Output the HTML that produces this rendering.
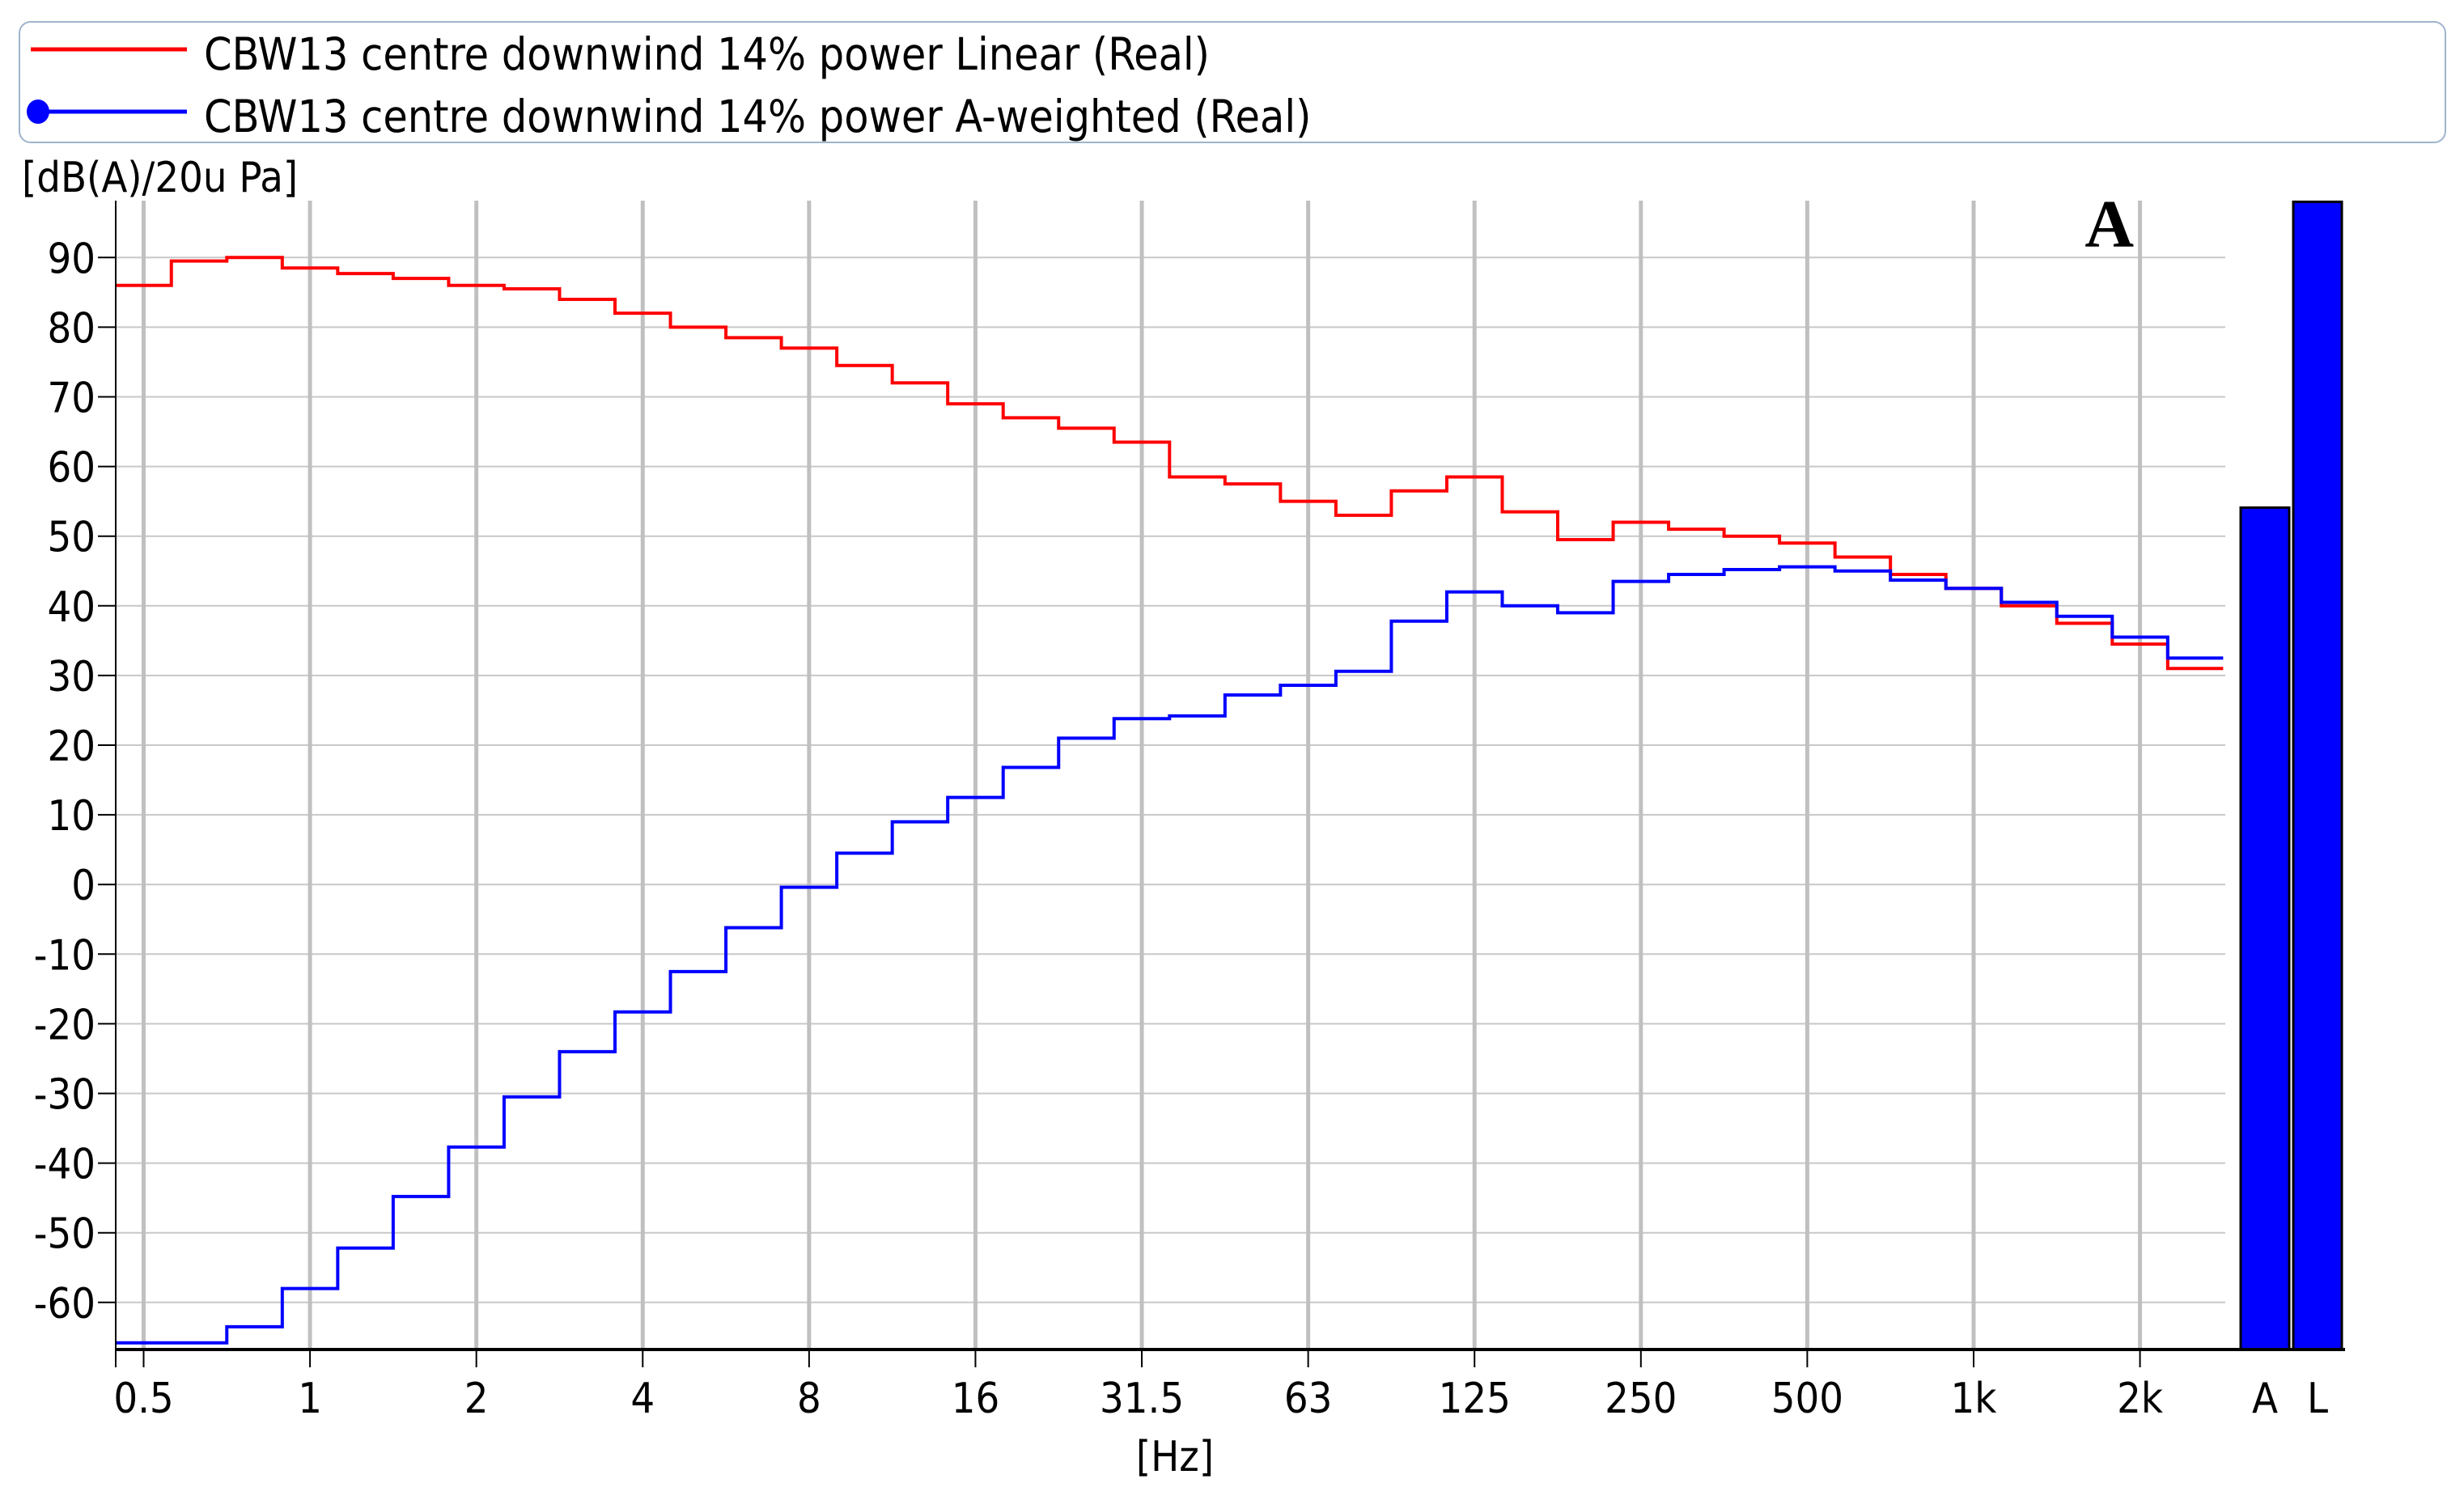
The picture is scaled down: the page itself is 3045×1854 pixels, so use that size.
<!DOCTYPE html>
<html><head><meta charset="utf-8"><style>
html,body{margin:0;padding:0;background:#fff;}
svg{display:block;font-family:"DejaVu Sans Condensed","Liberation Sans",sans-serif;}
</style></head><body>
<svg id="chart" width="3045" height="1854" viewBox="0 0 3045 1854" xmlns="http://www.w3.org/2000/svg">
<g>
<rect x="24" y="27" width="2998" height="149" rx="14" fill="#fff" stroke="#9fb4cc" stroke-width="2"/>
<line x1="38" y1="61" x2="231" y2="61" stroke="#ff0000" stroke-width="5"/>
<text x="252" y="86" font-size="55">CBW13 centre downwind 14% power Linear (Real)</text>
<line x1="47" y1="138" x2="231" y2="138" stroke="#0000ff" stroke-width="5"/>
<ellipse cx="47" cy="138" rx="14" ry="15" fill="#0000ff"/>
<text x="252" y="163" font-size="55">CBW13 centre downwind 14% power A-weighted (Real)</text>
</g>
<text x="27" y="237" font-size="52">[dB(A)/20u Pa]</text>
<text x="2637" y="305" font-size="84" font-weight="bold" text-anchor="end" font-family="Liberation Serif,serif">A</text>
<text x="1452" y="1818" font-size="52" text-anchor="middle">[Hz]</text>
<g id="grid"></g><g id="series"></g><g id="axes"></g>
</svg>
<script>
const bandLabels=["0.5","0.63","0.8","1","1.25","1.6","2","2.5","3.15","4","5","6.3","8","10","12.5","16","20","25","31.5","40","50","63","80","100","125","160","200","250","315","400","500","630","800","1k","1.25k","1.6k","2k","2.5k"];
const linearValues=[86,89.5,90,88.5,87.7,87,86,85.5,84,82,80,78.5,77,74.5,72,69,67,65.5,63.5,58.5,57.5,55,53,56.5,58.5,53.5,49.5,52,51,50,49,47,44.5,42.5,40,37.5,34.5,31];
const aWeightedValues=[-65.8,-65.8,-63.5,-58,-52.2,-44.8,-37.7,-30.5,-24,-18.3,-12.5,-6.2,-0.4,4.5,9,12.5,16.8,21,23.8,24.2,27.2,28.6,30.6,37.8,42,40,39,43.5,44.5,45.2,45.6,45,43.7,42.5,40.5,38.5,35.5,32.5];
const xTickLabels=["0.5","1","2","4","8","16","31.5","63","125","250","500","1k","2k"];
const yTickValues=[90,80,70,60,50,40,30,20,10,0,-10,-20,-30,-40,-50,-60];
const overallLabels=["A","L"];
const overallValues=[54.1,98];

const NS="http://www.w3.org/2000/svg";
const X0=143,X1=2750,Y0=248,YB=1668;
const BW=68.53;
function xBand(i){return 177.5+i*BW;}
function y(v){return 318.3+(90-v)*8.61;}
function mk(tag,attrs,parent){const e=document.createElementNS(NS,tag);for(const k in attrs)e.setAttribute(k,attrs[k]);parent.appendChild(e);return e;}
const grid=document.getElementById('grid'),series=document.getElementById('series'),axes=document.getElementById('axes');

yTickValues.forEach(v=>{
  const g=mk('line',{x1:X0,x2:X1,y1:y(v),y2:y(v),stroke:'#c8c8c8','stroke-width':2},grid);
  
  
  mk('line',{x1:121,x2:X0,y1:y(v),y2:y(v),stroke:'#000','stroke-width':2},axes);
  const t=mk('text',{x:118,y:y(v)+19,'font-size':52,'text-anchor':'end'},axes);
  t.textContent=v;
  
  
});
xTickLabels.forEach((lab,k)=>{
  const x=xBand(k*3);
  const g=mk('line',{x1:x,x2:x,y1:Y0,y2:YB,stroke:'#c0c0c0','stroke-width':5},grid);
  
  
  mk('line',{x1:x,x2:x,y1:YB,y2:1690,stroke:'#000','stroke-width':2},axes);
  const t=mk('text',{x:x,y:1746,'font-size':52,'text-anchor':'middle'},axes);
  t.textContent=lab;
  
  
});
function stepPath(vals){
  let d='';
  vals.forEach((v,i)=>{const a=xBand(i)-BW/2,b=xBand(i)+BW/2;d+=(i?'L':'M')+a+','+y(v)+'L'+b+','+y(v);});
  return d;
}
const pl=mk('path',{d:stepPath(linearValues),fill:'none',stroke:'#ff0000','stroke-width':4},series);


const pa=mk('path',{d:stepPath(aWeightedValues),fill:'none',stroke:'#0000ff','stroke-width':4},series);


const barX=[2769,2834],barW=60;
overallValues.forEach((v,i)=>{
  const r=mk('rect',{x:barX[i],y:y(v),width:barW,height:YB-y(v),fill:'#0000ff',stroke:'#000','stroke-width':3},series);
  
  
  const t=mk('text',{x:barX[i]+barW/2,y:1746,'font-size':52,'text-anchor':'middle'},axes);
  t.textContent=overallLabels[i];
  
  
});
const ya=mk('line',{x1:X0,x2:X0,y1:Y0,y2:1690,stroke:'#000','stroke-width':2},axes);


const xa=mk('line',{x1:X0,x2:2898,y1:YB,y2:YB,stroke:'#000','stroke-width':4},axes);


</script>
</body></html>
